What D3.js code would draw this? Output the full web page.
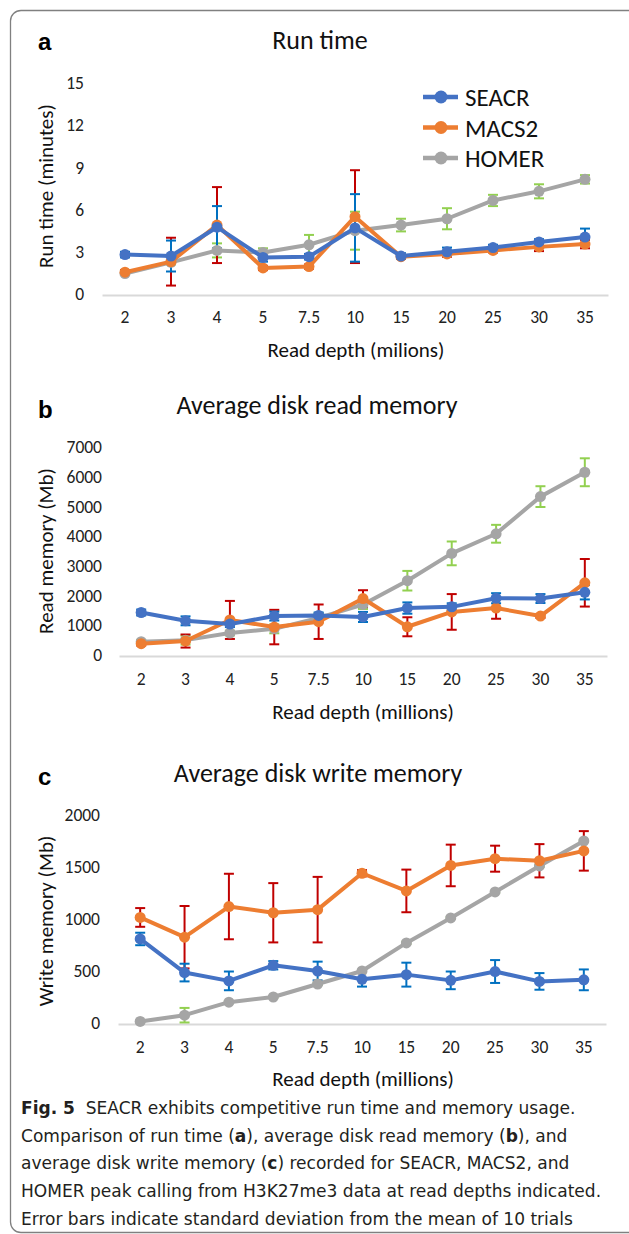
<!DOCTYPE html>
<html>
<head>
<meta charset="utf-8">
<script src="https://cdn.jsdelivr.net/npm/d3@7"></script>
<style>
  body { margin: 0; background: #fff; }
  svg { display: block; }
  .tick text { font-family: Carlito, Lato, sans-serif; font-size: 17.5px; fill: #222; }
</style>
</head>
<body>
<div id="chart"></div>
<script>
const depths = ['2', '3', '4', '5', '7.5', '10', '15', '20', '25', '30', '35'];
const seriesNames = ['SEACR', 'MACS2', 'HOMER'];

// run time (minutes)
const runSeacr = [2.8, 2.7, 4.75, 2.6, 2.65, 4.7, 2.7, 3.0, 3.3, 3.7, 4.05];
const runSeacrSd = [0.2, 1.1, 1.5, 0.3, 0.2, 2.4, 0.2, 0.3, 0.2, 0.2, 0.6];
const runMacs = [1.55, 2.3, 4.9, 1.85, 1.95, 5.5, 2.65, 2.85, 3.1, 3.35, 3.55];
const runMacsSd = [0.15, 1.7, 2.7, 0.15, 0.15, 3.3, 0.15, 0.2, 0.15, 0.3, 0.3];
const runHomer = [1.45, 2.25, 3.1, 2.95, 3.5, 4.5, 4.9, 5.35, 6.65, 7.3, 8.15];
const runHomerSd = [0.1, 0.15, 0.5, 0.3, 0.7, 1.35, 0.45, 0.75, 0.4, 0.5, 0.3];

// disk read memory (Mb)
const readSeacr = [1430, 1150, 1040, 1310, 1330, 1280, 1580, 1620, 1910, 1900, 2110];
const readSeacrSd = [100, 150, 100, 150, 100, 170, 190, 120, 170, 150, 240];
const readMacs = [380, 470, 1180, 940, 1120, 1900, 950, 1450, 1580, 1310, 2430];
const readMacsSd = [60, 220, 640, 580, 580, 280, 320, 600, 360, 60, 800];
const readHomer = [450, 500, 740, 880, 1250, 1700, 2500, 3420, 4080, 5330, 6150];
const readHomerSd = [60, 150, 80, 150, 150, 150, 330, 400, 300, 350, 470];

// disk write memory (Mb)
const writeSeacr = [808, 485, 405, 555, 500, 420, 465, 410, 495, 400, 415];
const writeSeacrSd = [60, 85, 90, 40, 90, 70, 115, 85, 110, 80, 100];
const writeMacs = [1015, 825, 1120, 1060, 1090, 1440, 1270, 1515, 1580, 1560, 1655];
const writeMacsSd = [90, 300, 315, 285, 315, 30, 205, 200, 125, 160, 190];
const writeHomer = [15, 75, 200, 250, 375, 500, 770, 1010, 1260, 1510, 1750];
const writeHomerSd = [5, 70, 10, 10, 10, 10, 10, 10, 10, 10, 10];

const runTicks = [0, 3, 6, 9, 12, 15];
const readTicks = [0, 1000, 2000, 3000, 4000, 5000, 6000, 7000];
const writeTicks = [0, 500, 1000, 1500, 2000];

const lineColor = { SEACR: '#4472C4', MACS2: '#ED7D31', HOMER: '#A5A5A5' };
const errColor = { SEACR: '#0070C0', MACS2: '#C00000', HOMER: '#92D050' };

const FONT = 'Carlito, Lato, sans-serif';

const panels = [
  {
    letter: 'a', title: 'Run time', yTitle: 'Run time (minutes)', xTitle: 'Read depth (milions)',
    vals: { SEACR: runSeacr, MACS2: runMacs, HOMER: runHomer },
    sds: { SEACR: runSeacrSd, MACS2: runMacsSd, HOMER: runHomerSd },
    ticks: runTicks, max: 15,
    x0: 102, x1: 608, yBot: 294, yTop: 83, tickRight: 84,
    letterY: 50, titleY: 49, titleX: 320, xTickY: 325, xTitleY: 357, xTitleX: 356, yTitleY: 186,
    legend: true,
  },
  {
    letter: 'b', title: 'Average disk read memory', yTitle: 'Read memory (Mb)', xTitle: 'Read depth (millions)',
    vals: { SEACR: readSeacr, MACS2: readMacs, HOMER: readHomer },
    sds: { SEACR: readSeacrSd, MACS2: readMacsSd, HOMER: readHomerSd },
    ticks: readTicks, max: 7000,
    x0: 119, x1: 607, yBot: 655, yTop: 447, tickRight: 102,
    letterY: 418, titleY: 414, titleX: 317, xTickY: 687, xTitleY: 719, xTitleX: 363, yTitleY: 551,
  },
  {
    letter: 'c', title: 'Average disk write memory', yTitle: 'Write memory (Mb)', xTitle: 'Read depth (millions)',
    vals: { SEACR: writeSeacr, MACS2: writeMacs, HOMER: writeHomer },
    sds: { SEACR: writeSeacrSd, MACS2: writeMacsSd, HOMER: writeHomerSd },
    ticks: writeTicks, max: 2000,
    x0: 118, x1: 606, yBot: 1023, yTop: 815, tickRight: 100,
    letterY: 785, titleY: 782, titleX: 318, xTickY: 1055, xTitleY: 1086, xTitleX: 363, yTitleY: 921,
  },
];

const W = 629, H = 1234;
const svg = d3.select('#chart').append('svg')
  .attr('width', W)
  .attr('height', H)
  .attr('viewBox', `0 0 ${W} ${H}`);

// figure frame (left/top edge with rounded corners)
svg.append('path')
  .attr('d', `M${W},10.5 H21 A10.5,10.5 0 0 0 10.5,21 V1222 A10.5,10.5 0 0 0 21,1232.5 H${W}`)
  .attr('fill', 'none')
  .attr('stroke', '#808080')
  .attr('stroke-width', 1.3);

function drawPanel(p) {
  const x = d3.scaleBand().domain(depths).range([p.x0, p.x1]);
  const cx = (d) => x(d) + x.bandwidth() / 2;
  const y = d3.scaleLinear().domain([0, p.max]).range([p.yBot, p.yTop]);
  const g = svg.append('g');

  // y axis labels
  g.append('g')
    .attr('transform', `translate(${p.tickRight},0)`)
    .call(d3.axisLeft(y).tickValues(p.ticks).tickFormat(d3.format('d')).tickSize(0).tickPadding(0))
    .call((a) => a.select('.domain').remove());

  // x axis line + labels
  const xa = g.append('g')
    .attr('transform', `translate(0,${p.yBot + 1})`)
    .call(d3.axisBottom(x).tickSize(0).tickPadding(p.xTickY - p.yBot - 15));
  xa.select('.domain').attr('stroke', '#D9D9D9').attr('stroke-width', 1.8);

  // titles
  g.append('text')
    .attr('x', 38).attr('y', p.letterY)
    .attr('font-family', 'Liberation Sans, Arial, sans-serif')
    .attr('font-weight', 'bold').attr('font-size', 24)
    .text(p.letter);
  g.append('text')
    .attr('x', p.titleX).attr('y', p.titleY)
    .attr('text-anchor', 'middle')
    .attr('font-family', FONT).attr('font-size', 26).attr('fill', '#111')
    .text(p.title);
  g.append('text')
    .attr('x', p.xTitleX).attr('y', p.xTitleY)
    .attr('text-anchor', 'middle')
    .attr('font-family', FONT).attr('font-size', 21).attr('fill', '#111')
    .text(p.xTitle);
  g.append('text')
    .attr('transform', `translate(53,${p.yTitleY}) rotate(-90)`)
    .attr('text-anchor', 'middle')
    .attr('font-family', FONT).attr('font-size', 21).attr('fill', '#111')
    .text(p.yTitle);

  const order = ['HOMER', 'MACS2', 'SEACR'];

  // error bars under the lines
  order.forEach((s) => {
    const eg = g.append('g').attr('stroke', errColor[s]).attr('stroke-width', 2);
    depths.forEach((d, i) => {
      const v = p.vals[s][i], sd = p.sds[s][i];
      const top = y(v + sd), bot = y(Math.max(0, v - sd)), xc = cx(d);
      eg.append('line').attr('x1', xc).attr('x2', xc).attr('y1', top).attr('y2', bot);
      eg.append('line').attr('x1', xc - 5).attr('x2', xc + 5).attr('y1', top).attr('y2', top);
      eg.append('line').attr('x1', xc - 5).attr('x2', xc + 5).attr('y1', bot).attr('y2', bot);
    });
  });

  const line = d3.line().x((d) => cx(d[0])).y((d) => y(d[1]));
  order.forEach((s) => {
    const pts = depths.map((d, i) => [d, p.vals[s][i]]);
    g.append('path')
      .attr('d', line(pts))
      .attr('fill', 'none')
      .attr('stroke', lineColor[s])
      .attr('stroke-width', 4)
      .attr('stroke-linejoin', 'round');
    g.selectAll(null).data(pts).join('circle')
      .attr('cx', (d) => cx(d[0]))
      .attr('cy', (d) => y(d[1]))
      .attr('r', 5.5)
      .attr('fill', lineColor[s]);
  });

  if (p.legend) {
    const lg = g.append('g');
    seriesNames.forEach((s, i) => {
      const ly = 97 + i * 30.5;
      lg.append('line')
        .attr('x1', 423).attr('x2', 458).attr('y1', ly).attr('y2', ly)
        .attr('stroke', lineColor[s]).attr('stroke-width', 4.5);
      lg.append('circle').attr('cx', 441).attr('cy', ly).attr('r', 6.5).attr('fill', lineColor[s]);
      lg.append('text')
        .attr('x', 465).attr('y', ly + 9)
        .attr('font-family', FONT).attr('font-size', 25).attr('fill', '#111')
        .text(s);
    });
  }
}

panels.forEach(drawPanel);

// caption
const captionLines = [
  [['Fig. 5', true], ['  SEACR exhibits competitive run time and memory usage.', false]],
  [['Comparison of run time (', false], ['a', true], ['), average disk read memory (', false], ['b', true], ['), and', false]],
  [['average disk write memory (', false], ['c', true], [') recorded for SEACR, MACS2, and', false]],
  [['HOMER peak calling from H3K27me3 data at read depths indicated.', false]],
  [['Error bars indicate standard deviation from the mean of 10 trials', false]],
];
const lastLineWidth = 552;

const capNodes = captionLines.map((parts, i) => {
  const t = svg.append('text')
    .attr('font-family', '"DejaVu Sans Condensed", "Liberation Sans Narrow", "Open Sans", sans-serif')
    .attr('font-size', 18.5)
    .attr('fill', '#231f20')
    .style('white-space', 'pre');
  parts.forEach(([str, bold]) => {
    t.append('tspan').attr('font-weight', bold ? 'bold' : 'normal').text(str);
  });
  return t;
});
// one common horizontal squeeze so every line keeps the same glyph width
const capScale = lastLineWidth / capNodes[4].node().getComputedTextLength();
capNodes.forEach((t, i) => {
  t.attr('transform', `translate(21,${1114 + i * 27.7}) scale(${capScale},1)`);
});
</script>
</body>
</html>
